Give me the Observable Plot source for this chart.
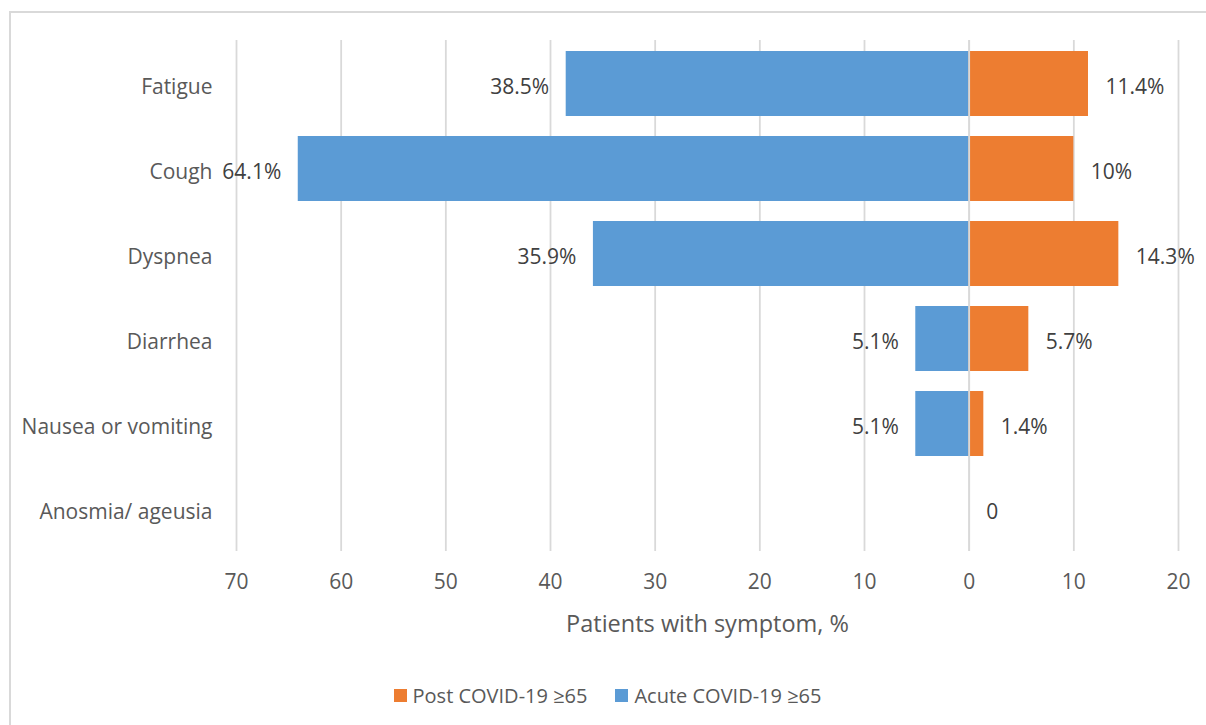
<!DOCTYPE html>
<html>
<head>
<meta charset="utf-8">
<script src="https://cdn.jsdelivr.net/npm/d3@7"></script>
<script src="https://cdn.jsdelivr.net/npm/@observablehq/plot@0.6"></script>
<style>
  html, body { margin: 0; padding: 0; background: #fff; }
  body { width: 1206px; height: 725px; position: relative; overflow: hidden; font-family: "Open Sans", sans-serif; }
  #frame { position: absolute; left: 9px; top: 11px; width: 1210px; height: 800px; border: 2px solid #d9d9d9; box-sizing: border-box; }
  #chart { position: absolute; left: 0; top: 0; }
  #legend { position: absolute; left: 10px; width: 1195px; top: 682px; display: flex; justify-content: center; align-items: center; font-size: 20px; color: #595959; }
  .item { display: flex; align-items: center; margin: 0 14px; }
  .sw { width: 13px; height: 13px; margin-right: 6px; }
</style>
</head>
<body>
<div id="frame"></div>
<div id="chart"></div>
<div id="legend"></div>
<script>
const categories = ["Fatigue", "Cough", "Dyspnea", "Diarrhea", "Nausea or vomiting", "Anosmia/ ageusia"];
const acuteValues = [38.5, 64.1, 35.9, 5.1, 5.1, 0];
const postValues = [11.4, 10, 14.3, 5.7, 1.4, 0];
const acuteLabels = ["38.5%", "64.1%", "35.9%", "5.1%", "5.1%", ""];
const postLabels = ["11.4%", "10%", "14.3%", "5.7%", "1.4%", "0"];
const xTicks = [-70, -60, -50, -40, -30, -20, -10, 0, 10, 20];
const seriesNames = ["Post COVID-19 ≥65", "Acute COVID-19 ≥65"];
const seriesColors = ["#ED7D31", "#5B9BD5"];
const axisTitle = "Patients with symptom, %";

const acuteRows = categories.map((c, i) => ({cat: c, v: -acuteValues[i], label: acuteLabels[i]}));
const postRows = categories.map((c, i) => ({cat: c, v: postValues[i], label: postLabels[i]}));

const font = "'Open Sans', sans-serif";

const plot = Plot.plot({
  width: 1206,
  height: 660,
  marginLeft: 236,
  marginRight: 28,
  marginTop: 40,
  marginBottom: 109,
  style: {fontFamily: font, fontSize: "21px", background: "transparent"},
  x: {domain: [-70, 20], ticks: xTicks},
  y: {domain: categories, paddingInner: 0.24, paddingOuter: 0.12},
  marks: [
    Plot.ruleX(xTicks, {stroke: "#d9d9d9", strokeWidth: 1.8}),
    Plot.barX(acuteRows, {x1: 0, x2: "v", y: "cat", fill: seriesColors[1]}),
    Plot.barX(postRows, {x1: 0, x2: "v", y: "cat", fill: seriesColors[0]}),
    Plot.ruleX([0], {stroke: "#d9d9d9", strokeWidth: 1.8}),
    Plot.text(acuteRows, {x: "v", y: "cat", text: "label", textAnchor: "end", dx: -17, dy: 3, fill: "#404040", fontSize: 21}),
    Plot.text(postRows, {x: "v", y: "cat", text: "label", textAnchor: "start", dx: 17, dy: 3, fill: "#404040", fontSize: 21}),
    Plot.axisX({ticks: xTicks, tickFormat: d => Math.abs(d), tickSize: 0, tickPadding: 23, label: null, fill: "#595959", fontSize: 21}),
    Plot.axisY({tickSize: 0, tickPadding: 24, label: null, fill: "#595959", fontSize: 21, dy: 3}),
    Plot.text([axisTitle], {frameAnchor: "bottom", lineAnchor: "middle", dy: 73, fill: "#595959", fontSize: 23.5})
  ]
});
document.getElementById("chart").appendChild(plot);

const legend = document.getElementById("legend");
seriesNames.forEach((name, i) => {
  const item = document.createElement("div");
  item.className = "item";
  const sw = document.createElement("div");
  sw.className = "sw";
  sw.style.background = seriesColors[i];
  const t = document.createElement("span");
  t.textContent = name;
  item.appendChild(sw);
  item.appendChild(t);
  legend.appendChild(item);
});
</script>
</body>
</html>
